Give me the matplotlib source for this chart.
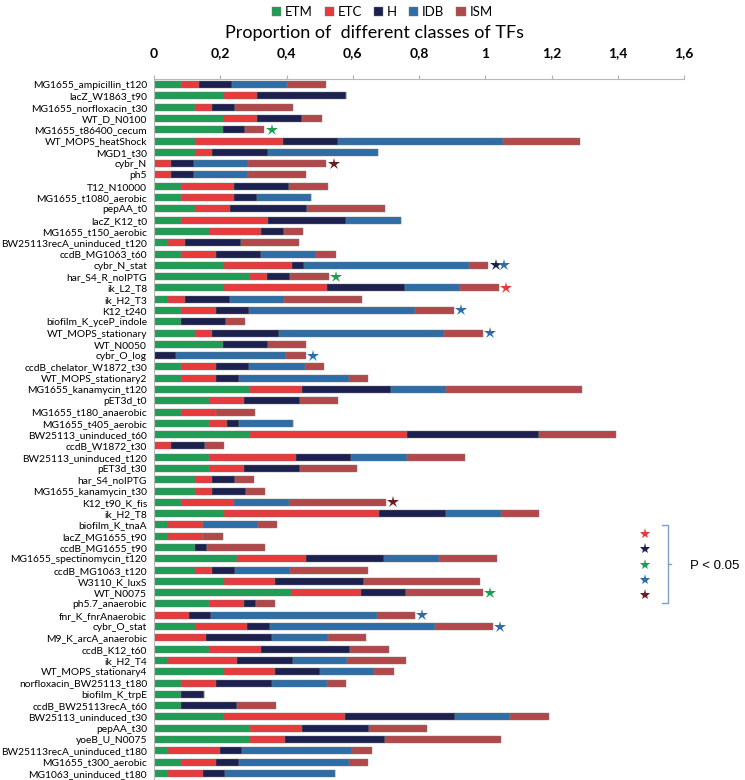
import matplotlib.pyplot as plt
import numpy as np
from matplotlib.lines import Line2D

plt.rcParams['font.family'] = ['Lato', 'DejaVu Sans']

# conditions, top to bottom
categories = [
    'MG1655_ampicillin_t120', 'lacZ_W1863_t90', 'MG1655_norfloxacin_t30', 'WT_D_N0100',
    'MG1655_t86400_cecum', 'WT_MOPS_heatShock', 'MGD1_t30', 'cybr_N', 'ph5', 'T12_N10000',
    'MG1655_t1080_aerobic', 'pepAA_t0', 'lacZ_K12_t0', 'MG1655_t150_aerobic',
    'BW25113recA_uninduced_t120', 'ccdB_MG1063_t60', 'cybr_N_stat', 'har_S4_R_noIPTG',
    'ik_L2_T8', 'ik_H2_T3', 'K12_t240', 'biofilm_K_yceP_indole', 'WT_MOPS_stationary',
    'WT_N0050', 'cybr_O_log', 'ccdB_chelator_W1872_t30', 'WT_MOPS_stationary2',
    'MG1655_kanamycin_t120', 'pET3d_t0', 'MG1655_t180_anaerobic', 'MG1655_t405_aerobic',
    'BW25113_uninduced_t60', 'ccdB_W1872_t30', 'BW25113_uninduced_t120', 'pET3d_t30',
    'har_S4_noIPTG', 'MG1655_kanamycin_t30', 'K12_t90_K_fis', 'ik_H2_T8', 'biofilm_K_tnaA',
    'lacZ_MG1655_t90', 'ccdB_MG1655_t90', 'MG1655_spectinomycin_t120', 'ccdB_MG1063_t120',
    'W3110_K_luxS', 'WT_N0075', 'ph5.7_anaerobic', 'fnr_K_fnrAnaerobic', 'cybr_O_stat',
    'M9_K_arcA_anaerobic', 'ccdB_K12_t60', 'ik_H2_T4', 'WT_MOPS_stationary4',
    'norfloxacin_BW25113_t180', 'biofilm_K_trpE', 'ccdB_BW25113recA_t60',
    'BW25113_uninduced_t30', 'pepAA_t30', 'yoeB_U_N0075', 'BW25113recA_uninduced_t180',
    'MG1655_t300_aerobic', 'MG1063_uninduced_t180',
]

etm = [0.081, 0.21, 0.125, 0.21, 0.207, 0.125, 0.125, 0, 0, 0.081,
       0.081, 0.125, 0.081, 0.167, 0.043, 0.081, 0.21, 0.29, 0.21, 0.043,
       0.081, 0.081, 0.125, 0.207, 0, 0.081, 0.081, 0.29, 0.167, 0.081,
       0.167, 0.29, 0, 0.167, 0.167, 0.125, 0.125, 0.081, 0.21, 0.043,
       0.043, 0.125, 0.25, 0.125, 0.21, 0.415, 0.167, 0, 0.125, 0,
       0.167, 0.043, 0.21, 0.081, 0.081, 0.081, 0.21, 0.29, 0.29, 0.043,
       0.081, 0.043]
etc = [0.054, 0.102, 0.051, 0.102, 0, 0.263, 0.051, 0.05, 0.05, 0.16,
       0.16, 0.105, 0.264, 0.156, 0.05, 0.107, 0.208, 0.052, 0.313, 0.05,
       0.107, 0, 0.051, 0, 0, 0.107, 0.107, 0.157, 0.105, 0.107,
       0.054, 0.473, 0.05, 0.262, 0.105, 0.051, 0.051, 0.16, 0.47, 0.105,
       0.105, 0, 0.21, 0.051, 0.155, 0.211, 0.105, 0.105, 0.157, 0.157,
       0.156, 0.207, 0.155, 0.107, 0, 0, 0.367, 0.157, 0.105, 0.155,
       0.107, 0.105]
h = [0.101, 0.268, 0.07, 0.136, 0.069, 0.167, 0.169, 0.07, 0.07, 0.168,
     0.069, 0.233, 0.235, 0.069, 0.17, 0.135, 0.035, 0.068, 0.235, 0.136,
     0.1, 0.136, 0.201, 0.136, 0.067, 0.1, 0.068, 0.267, 0.168, 0,
     0.035, 0.4, 0.104, 0.167, 0.168, 0.07, 0.102, 0, 0.201, 0,
     0, 0.035, 0.235, 0.07, 0.269, 0.135, 0.035, 0.068, 0.068, 0.2,
     0.269, 0.17, 0.135, 0.168, 0.069, 0.169, 0.333, 0.202, 0.301, 0.069,
     0.068, 0.067]
idb = [0.165, 0, 0, 0, 0, 0.499, 0.331, 0.165, 0.165, 0,
       0.165, 0, 0.165, 0, 0, 0.165, 0.498, 0, 0.165, 0.164,
       0.499, 0, 0.498, 0, 0.332, 0.167, 0.332, 0.167, 0, 0,
       0.164, 0, 0, 0.167, 0, 0, 0, 0.167, 0.167, 0.165,
       0, 0, 0.165, 0.164, 0, 0, 0, 0.499, 0.498, 0.167,
       0, 0.164, 0.165, 0.165, 0, 0, 0.164, 0, 0, 0.331,
       0.332, 0.332]
ism = [0.118, 0, 0.174, 0.058, 0.057, 0.233, 0, 0.235, 0.175, 0.115,
       0, 0.233, 0, 0.058, 0.174, 0.06, 0.058, 0.118, 0.118, 0.235,
       0.118, 0.058, 0.118, 0.115, 0.06, 0.058, 0.057, 0.41, 0.115, 0.118,
       0, 0.232, 0.058, 0.175, 0.174, 0.056, 0.057, 0.293, 0.115, 0.058,
       0.06, 0.175, 0.174, 0.235, 0.35, 0.232, 0.057, 0.115, 0.176, 0.117,
       0.117, 0.176, 0.06, 0.058, 0, 0.117, 0.117, 0.174, 0.351, 0.06,
       0.057, 0]

classes = ['ETM', 'ETC', 'H', 'IDB', 'ISM']
colors = ['#1f9d55', '#e63a3c', '#1c2150', '#2e6da6', '#b3484a']

# classes with significant enrichment (P < 0.05)
stars = {
    'MG1655_t86400_cecum': ['ETM'],
    'cybr_N': ['ISM'],
    'cybr_N_stat': ['H', 'IDB'],
    'har_S4_R_noIPTG': ['ETM'],
    'ik_L2_T8': ['ETC'],
    'K12_t240': ['IDB'],
    'WT_MOPS_stationary': ['IDB'],
    'cybr_O_log': ['IDB'],
    'K12_t90_K_fis': ['ISM'],
    'WT_N0075': ['ETM'],
    'fnr_K_fnrAnaerobic': ['IDB'],
    'cybr_O_stat': ['IDB'],
}
star_colors = {'ETM': '#1f9d55', 'ETC': '#e63a3c', 'H': '#1c2150',
               'IDB': '#2e6da6', 'ISM': '#6b1e22'}

W, H_ = 745, 780
fig = plt.figure(figsize=(W / 100, H_ / 100), dpi=100)
ax = fig.add_axes([154 / W, 1 - 779 / H_, 530 / W, 700 / H_])

y = np.arange(len(categories))
left = np.zeros(len(categories))
handles = []
for name, vals, col in zip(classes, [etm, etc, h, idb, ism], colors):
    b = ax.barh(y, vals, left=left, height=0.62, color=col,
                edgecolor='#7a7a7a', linewidth=0.3, label=name)
    handles.append(b)
    left += np.array(vals)

# stars right of the bar ends
for i, cat in enumerate(categories):
    for k, cls in enumerate(stars.get(cat, [])):
        ax.plot(left[i] + 0.022 + 0.027 * k, i, marker='*', color=star_colors[cls],
                markersize=9, markeredgewidth=0, clip_on=False)

ax.set_xlim(0, 1.6)
ax.set_ylim(len(categories) - 0.5, -0.5)
ax.xaxis.tick_top()
ticks = [0, 0.2, 0.4, 0.6, 0.8, 1, 1.2, 1.4, 1.6]
ax.set_xticks(ticks)
ax.set_xticklabels(['0', '0,2', '0,4', '0,6', '0,8', '1', '1,2', '1,4', '1,6'],
                   fontsize=10, fontweight='bold')
ax.tick_params(axis='x', length=3, color='#b0b0b0', pad=11)
ax.set_yticks(y)
ax.set_yticklabels(categories, fontsize=7.4)
ax.tick_params(axis='y', length=0, pad=5)
for s in ['right', 'bottom']:
    ax.spines[s].set_visible(False)
for s in ['top', 'left']:
    ax.spines[s].set_color('#b8b8b8')
    ax.spines[s].set_linewidth(0.8)

fig.text(0.503, 1 - 33 / H_, 'Proportion of  different classes of TFs',
         ha='center', va='center', fontsize=13)
fig.legend(handles=handles, loc='center', bbox_to_anchor=(0.513, 1 - 12 / H_),
           ncol=5, frameon=False, handlelength=0.7, handleheight=0.7,
           handletextpad=0.3, columnspacing=0.9, fontsize=9.5)

# star key with bracket
for i, cls in enumerate(['ETC', 'H', 'ETM', 'IDB', 'ISM']):
    fig.add_artist(Line2D([645 / W], [1 - (534 + i * 15.3) / H_], marker='*',
                          color=star_colors[cls], markersize=8, markeredgewidth=0))
bx = [662 / W, 668 / W, 668 / W, 662 / W]
by = [1 - 525 / H_, 1 - 525 / H_, 1 - 603 / H_, 1 - 603 / H_]
fig.add_artist(Line2D(bx, by, color='#7f9fc7', linewidth=1))
fig.add_artist(Line2D([668 / W, 671 / W], [1 - 564 / H_, 1 - 564 / H_],
                      color='#7f9fc7', linewidth=1))
fig.text(690 / W, 1 - 566 / H_, 'P < 0.05', fontsize=9.5, family='Liberation Sans',
         va='center', ha='left')

fig.savefig('out.png', dpi=100)
